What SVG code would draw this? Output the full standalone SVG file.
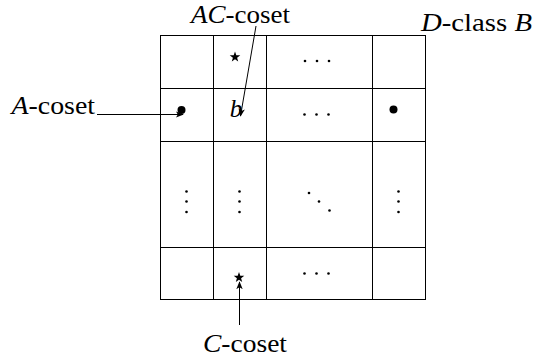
<svg xmlns="http://www.w3.org/2000/svg" width="533" height="358" viewBox="0 0 533 358">
<style>
.grid{stroke:#000;stroke-width:1;fill:none}
.conn{stroke:#000;stroke-width:1;fill:none;marker-end:url(#ah)}
</style>
<defs>
<marker id="ah" viewBox="0 0 10 10" refX="9" refY="5" markerWidth="8" markerHeight="8" markerUnits="userSpaceOnUse" orient="auto">
<path d="M0,1 L10,5 L0,9 L2.5,5 Z" fill="#000"/>
</marker>
<polygon id="star" points="0,-5.5 1.3,-1.8 5.3,-1.7 2.1,0.7 3.2,4.4 0,2.2 -3.2,4.4 -2.1,0.7 -5.3,-1.7 -1.3,-1.8" fill="#000"/>
<g id="hdots"><circle cx="-12" cy="0" r="1.3"/><circle cx="0" cy="0" r="1.3"/><circle cx="12" cy="0" r="1.3"/></g>
<g id="vdots"><circle cx="0" cy="-10" r="1.3"/><circle cx="0" cy="0" r="1.3"/><circle cx="0" cy="10.5" r="1.3"/></g>
</defs>
<g id="grid">
<rect class="grid" x="160.5" y="35.5" width="265" height="264"/>
<line class="grid" x1="213.5" y1="35.5" x2="213.5" y2="299.5"/>
<line class="grid" x1="266.5" y1="35.5" x2="266.5" y2="299.5"/>
<line class="grid" x1="372.5" y1="35.5" x2="372.5" y2="299.5"/>
<line class="grid" x1="160.5" y1="88.5" x2="425.5" y2="88.5"/>
<line class="grid" x1="160.5" y1="141.5" x2="425.5" y2="141.5"/>
<line class="grid" x1="160.5" y1="247.5" x2="425.5" y2="247.5"/>
</g>
<g id="cells">
<use href="#star" x="235" y="57"/>
<use href="#hdots" x="317" y="61"/>
<circle cx="181.5" cy="110" r="4"/>
<text x="236" y="117" text-anchor="middle" font-family="Liberation Serif, DejaVu Serif, serif" font-size="25" font-style="italic">b</text>
<use href="#hdots" x="316.5" y="114.5"/>
<circle cx="393.5" cy="109.5" r="4"/>
<use href="#vdots" x="186.5" y="201.5"/>
<use href="#vdots" x="239.5" y="201.5"/>
<g><circle cx="309" cy="193" r="1.3"/><circle cx="319" cy="201.5" r="1.3"/><circle cx="329.5" cy="210.5" r="1.3"/></g>
<use href="#vdots" x="398.5" y="201.5"/>
<use href="#star" x="239" y="277.5"/>
<use href="#hdots" x="316.5" y="273.5"/>
</g>
<g id="labels" font-family="Liberation Serif, DejaVu Serif, serif" font-size="25" fill="#000">
<text x="191" y="23" textLength="99" lengthAdjust="spacingAndGlyphs"><tspan font-style="italic">AC</tspan>-coset</text>
<text x="421" y="31" textLength="111" lengthAdjust="spacingAndGlyphs"><tspan font-style="italic">D</tspan>-class <tspan font-style="italic">B</tspan></text>
<text x="11.5" y="114" textLength="83.5" lengthAdjust="spacingAndGlyphs"><tspan font-style="italic">A</tspan>-coset</text>
<text x="203" y="352" textLength="84" lengthAdjust="spacingAndGlyphs"><tspan font-style="italic">C</tspan>-coset</text>
</g>
<g id="connectors">
<line class="conn" x1="256" y1="26" x2="240.5" y2="116"/>
<line class="conn" x1="97" y1="114.5" x2="183" y2="114.5"/>
<line class="conn" x1="239.5" y1="325" x2="239.5" y2="282"/>
</g>
</svg>
